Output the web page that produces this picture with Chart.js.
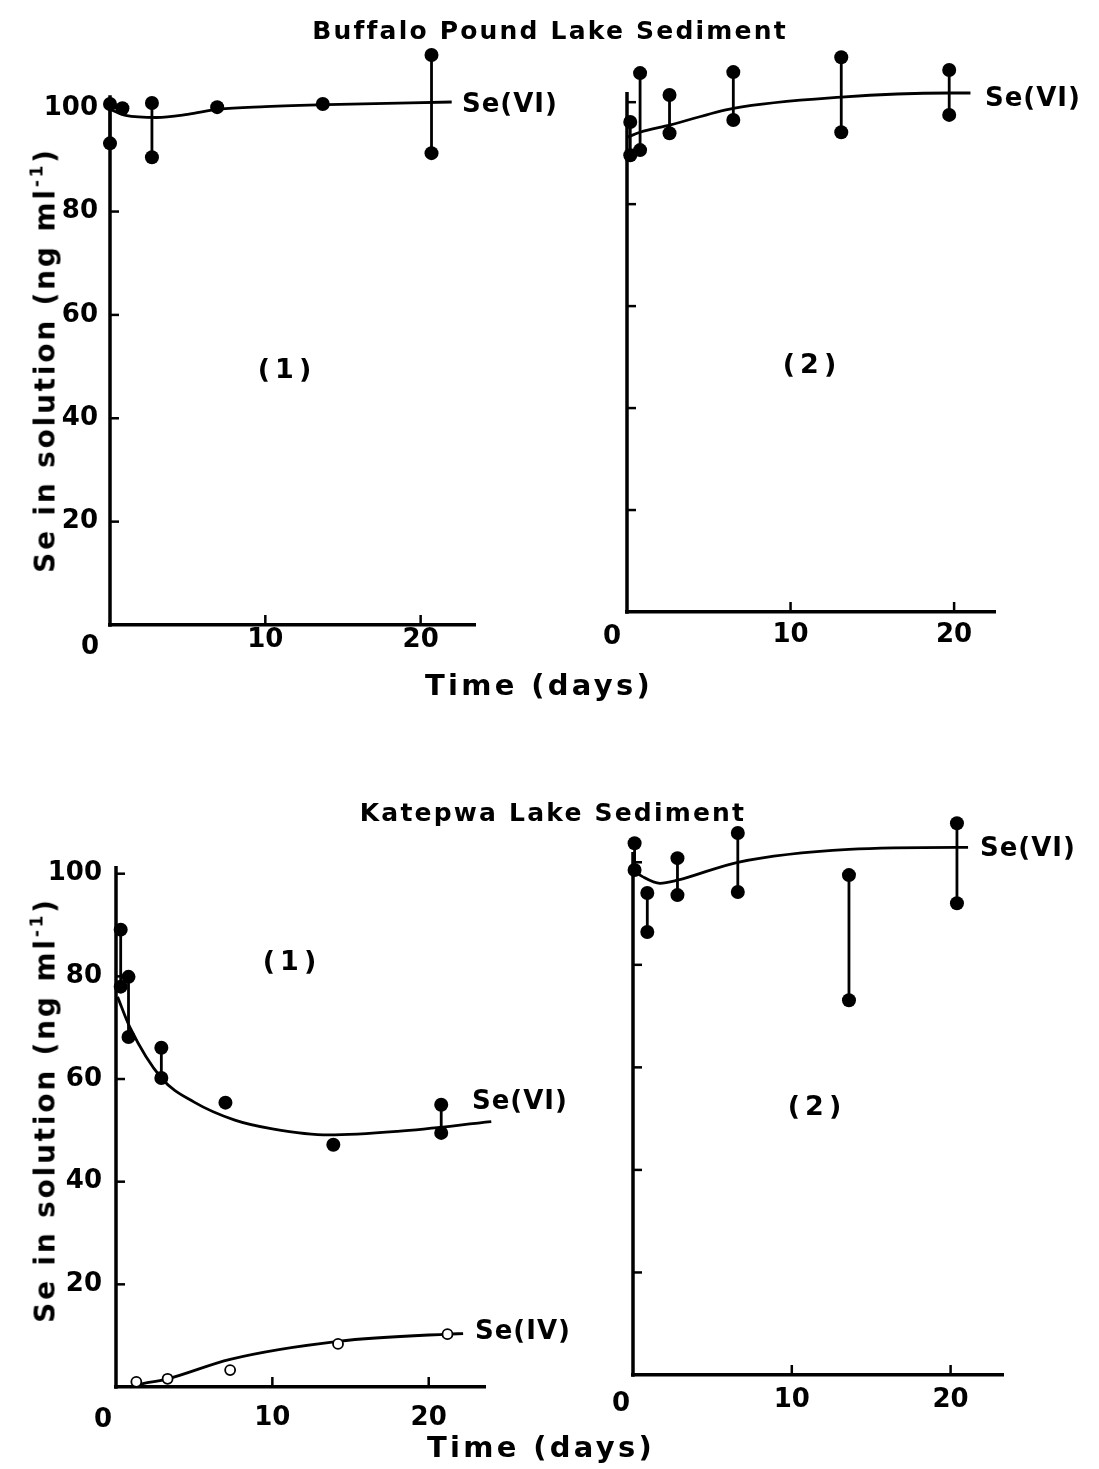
<!DOCTYPE html>
<html><head><meta charset="utf-8">
<script src="https://cdn.jsdelivr.net/npm/chart.js@4.4.1/dist/chart.umd.min.js"></script>
<style>
html,body{margin:0;padding:0;background:#fff;}
body{width:1099px;height:1469px;position:relative;overflow:hidden;font-family:'DejaVu Sans',sans-serif;font-weight:bold;color:#000;}
canvas{position:absolute;}
.t{position:absolute;white-space:nowrap;transform:translate(-50%,-50%);}
.l{position:absolute;white-space:nowrap;transform:translate(0,-50%);}
.yt{position:absolute;white-space:nowrap;transform:translate(-50%,-50%) rotate(-90deg);font-size:28px;letter-spacing:2.8px;}
.yt sup{font-size:17px;vertical-align:12px;line-height:0;}
.title{font-size:25px;letter-spacing:2.2px;}
.time{font-size:29px;letter-spacing:3.3px;}
.ann{font-size:26px;letter-spacing:1px;}
.pn{font-size:27px;letter-spacing:5px;}
.o{font-size:26px;}
</style></head><body>
<canvas id="c1" width="530" height="700" style="left:0;top:0;width:530px;height:700px"></canvas>
<canvas id="c2" width="559" height="700" style="left:540px;top:0;width:559px;height:700px"></canvas>
<canvas id="c3" width="530" height="709" style="left:0;top:760px;width:530px;height:709px"></canvas>
<canvas id="c4" width="559" height="709" style="left:540px;top:760px;width:559px;height:709px"></canvas>

<div class="t title" style="left:550px;top:30px">Buffalo Pound Lake Sediment</div>
<div class="t title" style="left:553px;top:812px">Katepwa Lake Sediment</div>
<div class="t time" style="left:539px;top:685px">Time (days)</div>
<div class="t time" style="left:541px;top:1447px">Time (days)</div>
<div class="yt" style="left:45px;top:360px">Se in solution (ng ml<sup>-1</sup>)</div>
<div class="yt" style="left:45px;top:1110px">Se in solution (ng ml<sup>-1</sup>)</div>
<div class="t pn" style="left:287px;top:368px">(1)</div>
<div class="t pn" style="left:812px;top:363px">(2)</div>
<div class="t pn" style="left:292px;top:960px">(1)</div>
<div class="t pn" style="left:817px;top:1105px">(2)</div>
<div class="l ann" style="left:462px;top:103px">Se(VI)</div>
<div class="l ann" style="left:985px;top:97px">Se(VI)</div>
<div class="l ann" style="left:472px;top:1100px">Se(VI)</div>
<div class="l ann" style="left:475px;top:1330px">Se(IV)</div>
<div class="l ann" style="left:980px;top:847px">Se(VI)</div>
<div class="t o" style="left:90px;top:645px">0</div>
<div class="t o" style="left:612px;top:635px">0</div>
<div class="t o" style="left:103px;top:1418px">0</div>
<div class="t o" style="left:621px;top:1402px">0</div>

<script>
// ---- shared tick values ----
const xTicks = [0, 10, 20];
const yTicks = [0, 20, 40, 60, 80, 100];
const yTickLabels = ['', '20', '40', '60', '80', '100'];

// ---- Buffalo Pound Lake, panel (1): Se(VI) ----
const bp1Days = [0, 0.8, 2.7, 6.9, 13.7, 20.7];
const bp1High = [100.8, 100, 101, 100.2, 100.8, 110.3];
const bp1Low  = [93.2, 100, 90.5, 100.2, 100.8, 91.3];
const bp1CurveDays = [0, 1, 3, 5, 7, 10, 14, 22];
const bp1CurveVals = [99.8, 98.6, 98.2, 98.8, 99.8, 100.3, 100.7, 101.2];

// ---- Buffalo Pound Lake, panel (2): Se(VI) ----
const bp2Days = [0.2, 0.8, 2.6, 6.5, 13.1, 19.7];
const bp2High = [96.1, 105.7, 101.4, 105.9, 108.8, 106.3];
const bp2Low  = [89.6, 90.6, 93.9, 96.5, 94.1, 97.5];
const bp2CurveDays = [0, 0.8, 2.6, 6.5, 13.1, 19.7, 21];
const bp2CurveVals = [93.1, 94.1, 95.5, 98.8, 101, 101.8, 101.8];

// ---- Katepwa Lake, panel (1): Se(VI) and Se(IV) ----
const kl1Days = [0.3, 0.8, 2.9, 7.0, 13.9, 20.8];
const kl1High = [89.1, 79.9, 66.1, 55.4, 47.2, 55.0];
const kl1Low  = [78.0, 68.2, 60.2, 55.4, 47.2, 49.5];
const kl1CurveDays = [0.1, 0.9, 2.9, 5, 7.6, 10, 13.6, 18, 24];
const kl1CurveVals = [76, 70, 60.2, 55.5, 52, 50.3, 49.1, 49.8, 51.7];
const kl4Days = [1.3, 3.3, 7.3, 14.2, 21.2];
const kl4Vals = [1.0, 1.6, 3.3, 8.4, 10.3];
const kl4CurveDays = [0.9, 1.3, 3.3, 7.3, 14.2, 21.2, 22.2];
const kl4CurveVals = [0, 0.4, 1.6, 5.4, 8.9, 10.3, 10.4];

// ---- Katepwa Lake, panel (2): Se(VI) ----
const kl2Days = [0.1, 0.9, 2.8, 6.6, 13.6, 20.4];
const kl2High = [103.7, 94, 100.8, 105.7, 97.5, 107.6];
const kl2Low  = [98.5, 86.4, 93.6, 94.2, 73.1, 92];
const kl2CurveDays = [0, 0.6, 1.7, 2.8, 6.6, 13.6, 20.4, 21.1];
const kl2CurveVals = [98.5, 97.2, 95.9, 96.5, 100, 102.5, 102.9, 102.9];

// ---- helpers building library data from the arrays ----
function rangeData(days, hi, lo){
  const d=[];
  days.forEach((t,i)=>{ if(hi[i]!==lo[i]){ d.push({x:t,y:lo[i]},{x:t,y:hi[i]},{x:t,y:null}); } });
  return d;
}
function pointData(days, hi, lo){
  const d=[];
  days.forEach((t,i)=>{ d.push({x:t,y:hi[i]}); if(lo[i]!==hi[i]) d.push({x:t,y:lo[i]}); });
  return d;
}
function curveData(days, vals){ return days.map((t,i)=>({x:t,y:vals[i]})); }

// y-axis line (up to a given value) and inward tick marks, drawn through the scales
const axisMarks = {
  id:'axisMarks',
  afterDraw(chart, args, opts){
    const ctx=chart.ctx, xs=chart.scales.x, ys=chart.scales.y;
    const top = ys.getPixelForValue(opts.axisTop), bottom = ys.getPixelForValue(0);
    ctx.save(); ctx.strokeStyle='#000';
    ctx.lineWidth=3.5; ctx.lineCap='butt';
    ctx.beginPath(); ctx.moveTo(xs.left, bottom+1.75); ctx.lineTo(xs.left, top); ctx.stroke();
    ctx.lineWidth=2.5;
    xs.ticks.forEach(t=>{ if(t.value<=0) return; const px=xs.getPixelForValue(t.value);
      ctx.beginPath(); ctx.moveTo(px, xs.top); ctx.lineTo(px, xs.top-10); ctx.stroke(); });
    ys.ticks.forEach(t=>{ if(t.value<=0 || t.value>opts.axisTop) return; const py=ys.getPixelForValue(t.value);
      ctx.beginPath(); ctx.moveTo(xs.left, py); ctx.lineTo(xs.left+9, py); ctx.stroke(); });
    ctx.restore();
  }
};

const tickFont = {family:'DejaVu Sans', size:26, weight:'bold'};

function dotSet(data){ return {type:'scatter', data, pointRadius:7, pointHoverRadius:7, pointBackgroundColor:'#000', pointBorderWidth:0, showLine:false, clip:false}; }
function rangeSet(data){ return {type:'line', data, showLine:true, spanGaps:false, borderColor:'#000', borderWidth:2.8, pointRadius:0, clip:false}; }
function curveSet(data){ return {type:'line', data, showLine:true, borderColor:'#000', borderWidth:2.8, pointRadius:0, tension:0.4, cubicInterpolationMode:'monotone', clip:false}; }

function makeChart(id, cfg, datasets){
  return new Chart(document.getElementById(id), {
    type:'scatter',
    data:{datasets},
    options:{
      responsive:false, animation:false, devicePixelRatio:1, events:[],
      layout:{padding:{top:cfg.padTop, right:cfg.padRight, left:0, bottom:0}},
      plugins:{legend:{display:false}, tooltip:{enabled:false}, axisMarks:{axisTop:cfg.axisTop}},
      scales:{
        x:{type:'linear', min:0, max:cfg.xMax,
           afterBuildTicks:s=>{ s.ticks = xTicks.map(v=>({value:v})); },
           afterFit:s=>{ s.height = cfg.xH; },
           grid:{display:false, drawTicks:false},
           border:{display:true, color:'#000', width:3.5},
           ticks:{callback:(v)=> v===0 ? '' : String(v), font:tickFont, color:'#000', padding:cfg.xPad, maxRotation:0, autoSkip:false}},
        y:{type:'linear', min:0, max:cfg.yMax,
           afterBuildTicks:s=>{ s.ticks = yTicks.map(v=>({value:v})); },
           afterFit:s=>{ s.width = cfg.yW; },
           grid:{display:false, drawTicks:false},
           border:{display:false},
           ticks:{display:cfg.showY, callback:(v,i)=> yTickLabels[i], font:tickFont, color:'#000', padding:cfg.yPad, autoSkip:false}}
      }
    },
    plugins:[axisMarks]
  });
}

makeChart('c1', {padTop:41, padRight:55, yW:110, xH:75, xMax:23.5, yMax:113, axisTop:102.5, xPad:0, yPad:12, showY:true}, [
  dotSet(pointData(bp1Days, bp1High, bp1Low)),
  rangeSet(rangeData(bp1Days, bp1High, bp1Low)),
  curveSet(curveData(bp1CurveDays, bp1CurveVals))
]);
makeChart('c2', {padTop:41, padRight:104, yW:87, xH:88, xMax:22.5, yMax:112, axisTop:102, xPad:8, yPad:12, showY:false}, [
  dotSet(pointData(bp2Days, bp2High, bp2Low)),
  rangeSet(rangeData(bp2Days, bp2High, bp2Low)),
  curveSet(curveData(bp2CurveDays, bp2CurveVals))
]);
makeChart('c3', {padTop:106, padRight:45, yW:116, xH:82, xMax:23.6, yMax:101.5, axisTop:101.5, xPad:16, yPad:14, showY:true}, [
  {type:'scatter', data:curveData(kl4Days, kl4Vals), pointRadius:5, pointBackgroundColor:'#fff', pointBorderColor:'#000', pointBorderWidth:1.8, showLine:false, clip:false},
  dotSet(pointData(kl1Days, kl1High, kl1Low)),
  rangeSet(rangeData(kl1Days, kl1High, kl1Low)),
  curveSet(curveData(kl1CurveDays, kl1CurveVals)),
  curveSet(curveData(kl4CurveDays, kl4CurveVals))
]);
makeChart('c4', {padTop:51, padRight:96, yW:93, xH:94, xMax:23.3, yMax:110, axisTop:102, xPad:10, yPad:12, showY:false}, [
  dotSet(pointData(kl2Days, kl2High, kl2Low)),
  rangeSet(rangeData(kl2Days, kl2High, kl2Low)),
  curveSet(curveData(kl2CurveDays, kl2CurveVals))
]);
</script>
</body></html>
